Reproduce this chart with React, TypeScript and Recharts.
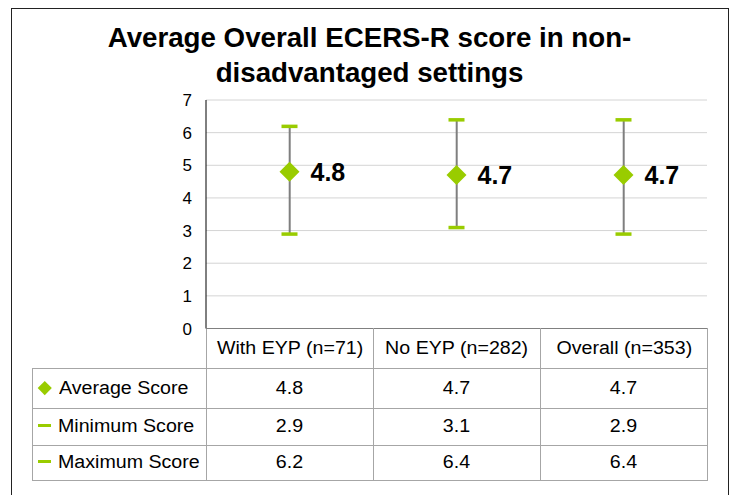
import { Bar, ComposedChart, CartesianGrid, Scatter, XAxis, YAxis } from "recharts";

const categories = ["With EYP (n=71)", "No EYP (n=282)", "Overall (n=353)"];
const averageScore = [4.8, 4.7, 4.7];
const minimumScore = [2.9, 3.1, 2.9];
const maximumScore = [6.2, 6.4, 6.4];
const yTicks = [0, 1, 2, 3, 4, 5, 6, 7];

const GREEN = "#99cc00";
const FONT = "Arial, 'Liberation Sans', sans-serif";

const rows = categories.map((name, i) => ({
  name,
  avg: averageScore[i],
  min: minimumScore[i],
  max: maximumScore[i],
}));

const tableRows = [
  { label: "Average Score", marker: "diamond", values: averageScore },
  { label: "Minimum Score", marker: "dash", values: minimumScore },
  { label: "Maximum Score", marker: "dash", values: maximumScore },
];

function RangeLine(props: any) {
  const { x, y, width, height } = props;
  const cx = x + width / 2;
  return <line x1={cx} x2={cx} y1={y} y2={y + height} stroke="#7f7f7f" strokeWidth={2} />;
}

function Cap(props: any) {
  const { cx, cy } = props;
  return <rect x={cx - 8} y={cy - 1.5} width={16} height={3.5} fill={GREEN} />;
}

function Diamond(props: any) {
  const { cx, cy, payload } = props;
  return (
    <g>
      <polygon
        points={`${cx},${cy - 10} ${cx + 10},${cy} ${cx},${cy + 10} ${cx - 10},${cy}`}
        fill={GREEN}
      />
      <text
        x={cx + 21}
        y={cy + 9}
        fontFamily={FONT}
        fontWeight="bold"
        fontSize={25}
        fill="#000"
      >
        {payload.avg.toFixed(1)}
      </text>
    </g>
  );
}

function YTick(props: any) {
  const { x, y, payload } = props;
  return (
    <text x={x} y={y + 6} textAnchor="end" fontFamily={FONT} fontSize={17} fill="#000">
      {payload.value}
    </text>
  );
}

// the reference text is a bit wider than the font renders here
function Wide({ children, origin = "center" }: { children: any; origin?: string }) {
  return (
    <span style={{ display: "inline-block", transform: "scaleX(1.09)", transformOrigin: origin }}>
      {children}
    </span>
  );
}

const cellBorder = "1px solid #a6a6a6";
const colW = [174, 167, 167, 167];
const rowH = [40, 39.5, 37, 35.5];

export default function App() {
  return (
    <div
      style={{
        position: "absolute",
        left: 0,
        top: 0,
        width: 734,
        height: 495,
        overflow: "hidden",
        background: "#fff",
        fontFamily: FONT,
      }}
    >
      <div
        style={{
          position: "absolute",
          left: 11,
          top: 8,
          width: 716,
          height: 520,
          border: "1.5px solid #222",
        }}
      />
      <div
        style={{
          position: "absolute",
          left: 11,
          top: 20,
          width: 717,
          textAlign: "center",
          fontWeight: "bold",
          fontSize: 27.7,
          lineHeight: "35px",
          color: "#000",
        }}
      >
        Average Overall ECERS-R score in non-
        <br />
        disadvantaged settings
      </div>
      <div style={{ position: "absolute", left: 0, top: 0 }}>
        <ComposedChart
          width={734}
          height={495}
          data={rows}
          margin={{ top: 100, right: 27, bottom: 166.5, left: 166 }}
        >
          <CartesianGrid vertical={false} stroke="#d4d4d4" />
          <XAxis dataKey="name" hide />
          <YAxis
            width={40}
            domain={[0, 7]}
            ticks={yTicks}
            interval={0}
            tickLine={false}
            tickSize={0}
            tickMargin={14}
            axisLine={{ stroke: "#000" }}
            tick={<YTick />}
          />
          <Bar
            dataKey={(d: any) => [d.min, d.max]}
            shape={<RangeLine />}
            isAnimationActive={false}
          />
          <Scatter dataKey="min" shape={<Cap />} isAnimationActive={false} />
          <Scatter dataKey="max" shape={<Cap />} isAnimationActive={false} />
          <Scatter dataKey="avg" shape={<Diamond />} isAnimationActive={false} />
        </ComposedChart>
      </div>
      <table
        style={{
          position: "absolute",
          left: 32,
          top: 328,
          borderCollapse: "collapse",
          tableLayout: "fixed",
          fontSize: 18,
          color: "#000",
        }}
      >
        <colgroup>
          {colW.map((w, i) => (
            <col key={i} style={{ width: w }} />
          ))}
        </colgroup>
        <tbody>
          <tr style={{ height: rowH[0] }}>
            <td style={{ padding: 0 }} />
            {categories.map((c) => (
              <td
                key={c}
                style={{ border: cellBorder, borderTop: "1px solid #808080", textAlign: "center", padding: 0 }}
              >
                <Wide>{c}</Wide>
              </td>
            ))}
          </tr>
          {tableRows.map((r, ri) => (
            <tr key={r.label} style={{ height: rowH[ri + 1] }}>
              <td style={{ border: cellBorder, padding: "0 0 0 4px", whiteSpace: "nowrap" }}>
                {r.marker === "diamond" ? (
                  <span
                    style={{
                      display: "inline-block",
                      width: 9.5,
                      height: 9.5,
                      background: GREEN,
                      transform: "rotate(45deg)",
                      margin: "0 9px 1px 3px",
                    }}
                  />
                ) : (
                  <span
                    style={{
                      display: "inline-block",
                      width: 13,
                      height: 3,
                      background: GREEN,
                      margin: "0 7px 5px 1px",
                    }}
                  />
                )}
                <Wide origin="left center">{r.label}</Wide>
              </td>
              {r.values.map((v, i) => (
                <td key={i} style={{ border: cellBorder, textAlign: "center", padding: 0 }}>
                  <Wide>{v.toFixed(1)}</Wide>
                </td>
              ))}
            </tr>
          ))}
        </tbody>
      </table>
    </div>
  );
}
